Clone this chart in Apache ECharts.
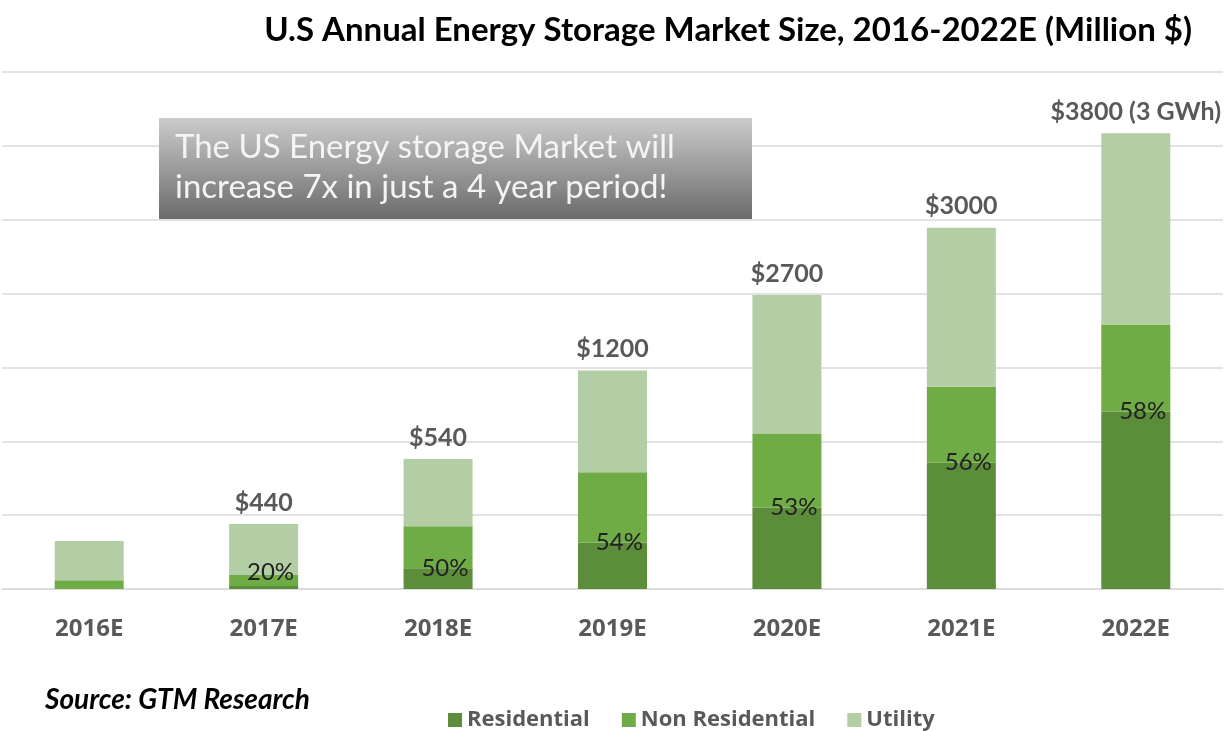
<!DOCTYPE html>
<html>
<head>
<meta charset="utf-8">
<script src="https://cdn.jsdelivr.net/npm/echarts@6/dist/echarts.min.js"></script>
<style>
  html, body { margin: 0; padding: 0; background: #fff; }
  #main { width: 1224px; height: 731px; }
</style>
</head>
<body>
<div id="main"></div>
<script>
// data (units: million $, bar heights as drawn)
var years = ['2016E', '2017E', '2018E', '2019E', '2020E', '2021E', '2022E'];
var residential = [0, 20, 140, 315, 550, 855, 1200];
var nonResidential = [60, 75, 285, 475, 500, 515, 590];
var utility = [265, 345, 455, 690, 940, 1075, 1295];
var totalLabels = ['', '$440', '$540', '$1200', '$2700', '$3000', '$3800 (3 GWh)'];
var shareLabels = ['', '20%', '50%', '54%', '53%', '56%', '58%'];

var chartDom = document.getElementById('main');
var myChart = echarts.init(chartDom);
var option;

var grey = '#595959';

option = {
    animation: false,
    title: {
        text: 'U.S Annual Energy Storage Market Size, 2016-2022E (Million $)',
        right: 27,
        top: 9,
        textStyle: {
            fontFamily: 'Lato',
            fontWeight: 'bold',
            fontSize: 33,
            color: '#000'
        }
    },
    legend: {
        left: 443,
        top: 704,
        icon: 'rect',
        itemWidth: 14,
        itemHeight: 14,
        itemGap: 32,
        textStyle: {
            fontFamily: 'Open Sans',
            fontWeight: 'bold',
            fontSize: 22,
            color: grey
        },
        data: ['Residential', 'Non Residential', 'Utility']
    },
    grid: {
        left: 2,
        right: 1,
        top: 72,
        bottom: 142
    },
    xAxis: {
        type: 'category',
        data: years,
        axisTick: { show: false },
        axisLine: { lineStyle: { color: '#d9d9d9', width: 1.5 } },
        axisLabel: {
            margin: 28,
            fontFamily: 'Open Sans',
            fontWeight: 'bold',
            fontSize: 24,
            color: grey
        }
    },
    yAxis: {
        type: 'value',
        min: 0,
        max: 3500,
        interval: 500,
        axisLabel: { show: false },
        axisLine: { show: false },
        axisTick: { show: false },
        splitLine: { lineStyle: { color: '#d9d9d9', width: 1.5 } }
    },
    graphic: [
        {
            type: 'rect',
            shape: { x: 159, y: 118, width: 593, height: 101 },
            style: {
                fill: new echarts.graphic.LinearGradient(0, 0, 0, 1, [
                    { offset: 0, color: '#cbcbcb' },
                    { offset: 1, color: '#6b6b6b' }
                ])
            },
            z: 10
        },
        {
            type: 'text',
            left: 175,
            top: 127,
            style: {
                text: 'The US Energy storage Market will\nincrease 7x in just a 4 year period!',
                fill: '#f4f4f4',
                font: '33px Lato',
                lineHeight: 40
            },
            z: 11
        },
        {
            type: 'text',
            left: 45,
            top: 686,
            style: {
                text: 'Source: GTM Research',
                fill: '#000',
                font: 'italic bold 28px Lato'
            }
        }
    ],
    series: [
        {
            name: 'Residential',
            type: 'bar',
            stack: 'total',
            barWidth: 69,
            itemStyle: { color: '#5b8d3b' },
            label: {
                show: true,
                position: ['60%', 0],
                align: 'center',
                verticalAlign: 'middle',
                fontFamily: 'Lato',
                fontSize: 24,
                color: '#222',
                formatter: function (p) { return shareLabels[p.dataIndex]; }
            },
            data: residential.map(function (v, i) {
                // the 2017 label sits a bit higher than the thin bar
                return i === 1 ? { value: v, label: { offset: [0, -14] } } : v;
            })
        },
        {
            name: 'Non Residential',
            type: 'bar',
            stack: 'total',
            itemStyle: { color: '#6fac46' },
            data: nonResidential
        },
        {
            name: 'Utility',
            type: 'bar',
            stack: 'total',
            itemStyle: { color: '#b3cea5' },
            label: {
                show: true,
                position: 'top',
                distance: 9,
                fontFamily: 'Lato',
                fontWeight: 'bold',
                fontSize: 25,
                color: grey,
                formatter: function (p) { return totalLabels[p.dataIndex]; }
            },
            data: utility
        }
    ]
};

option && myChart.setOption(option);
</script>
</body>
</html>
